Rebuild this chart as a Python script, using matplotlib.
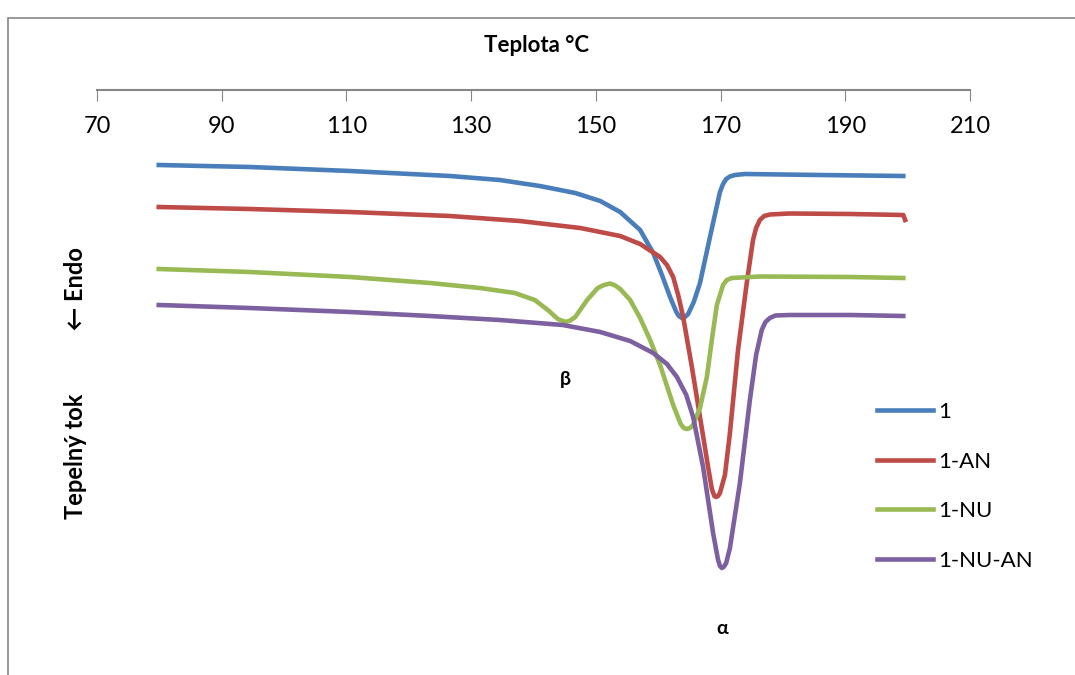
import matplotlib.pyplot as plt
from matplotlib.patches import Rectangle

plt.rcParams['font.family'] = ['Lato', 'DejaVu Sans']

# DSC curves (temperature in C, relative heat flow)
t_1 = [79.9, 94.5, 110.6, 126.6, 134.6, 141.0, 146.7, 150.7, 153.9, 157.1, 159.2, 160.6, 161.9,
       162.9, 163.3, 163.8, 164.3, 164.8, 165.7, 166.7, 168.3, 169.9, 170.4, 170.9, 171.5,
       172.3, 173.9, 185.9, 199.3]
v_1 = [4.85, 4.83, 4.79, 4.74, 4.70, 4.64, 4.57, 4.49, 4.38, 4.20, 3.97, 3.75, 3.53,
       3.38, 3.34, 3.32, 3.33, 3.36, 3.48, 3.67, 4.13, 4.58, 4.66, 4.71, 4.735,
       4.75, 4.76, 4.75, 4.74]

t_an = [79.9, 94.5, 110.6, 126.6, 137.8, 147.5, 153.9, 157.1, 160.3, 161.4, 162.4, 163.2, 164.0,
        165.4, 166.7, 168.0, 168.6, 169.0, 169.3, 169.6, 169.9, 170.7, 171.5, 172.8, 174.2,
        175.2, 175.7, 176.3, 177.0, 177.9, 181.1, 190.8, 199.3, 199.6]
v_an = [4.43, 4.41, 4.38, 4.34, 4.29, 4.22, 4.14, 4.06, 3.93, 3.85, 3.73, 3.55, 3.33,
        2.83, 2.33, 1.83, 1.61, 1.54, 1.53, 1.54, 1.57, 1.75, 2.17, 3.00, 3.67,
        4.10, 4.22, 4.30, 4.34, 4.355, 4.365, 4.36, 4.35, 4.30]

t_nu = [79.9, 94.5, 110.6, 123.4, 131.4, 137.0, 140.2, 142.3, 143.9, 144.5, 145.2, 145.9, 146.7,
        148.6, 150.3, 151.3, 152.3, 153.1, 153.9, 155.5, 157.1, 158.7, 160.3, 162.4, 163.6,
        164.1, 164.6, 165.1, 165.6, 166.7, 167.8, 168.6, 169.4, 170.4, 171.0, 171.8, 176.3,
        190.8, 199.3]
v_nu = [3.81, 3.78, 3.73, 3.67, 3.62, 3.57, 3.50, 3.40, 3.31, 3.295, 3.28, 3.295, 3.33,
        3.50, 3.62, 3.65, 3.665, 3.645, 3.61, 3.50, 3.32, 3.10, 2.85, 2.45, 2.26,
        2.22, 2.21, 2.22, 2.25, 2.42, 2.73, 3.10, 3.45, 3.65, 3.70, 3.72, 3.735,
        3.73, 3.72]

t_nuan = [79.9, 94.5, 110.6, 123.4, 134.6, 144.7, 150.7, 155.5, 159.2, 161.4, 163.0, 164.5, 165.6,
          167.2, 168.8, 169.6, 169.9, 170.2, 170.5, 170.9, 171.5, 173.1, 174.7, 175.7, 176.6,
          177.2, 177.9, 178.8, 181.1, 190.8, 199.3]
v_nuan = [3.45, 3.42, 3.38, 3.34, 3.30, 3.25, 3.18, 3.09, 2.97, 2.86, 2.73, 2.55, 2.33,
          1.83, 1.17, 0.90, 0.84, 0.82, 0.83, 0.87, 1.02, 1.67, 2.50, 2.95, 3.20,
          3.28, 3.32, 3.345, 3.35, 3.35, 3.34]

x_ticks = [70, 90, 110, 130, 150, 170, 190, 210]

fig = plt.figure(figsize=(10.75, 6.75), dpi=100)
ax = fig.add_axes([97 / 1075, 25 / 675, 873 / 1075, 560 / 675])

ax.plot(t_1, v_1, color='#4A7EBB', lw=3.3, label='1', solid_joinstyle='round')
ax.plot(t_an, v_an, color='#BE4B48', lw=3.3, label='1-AN', solid_joinstyle='round')
ax.plot(t_nu, v_nu, color='#98B954', lw=3.3, label='1-NU', solid_joinstyle='round')
ax.plot(t_nuan, v_nuan, color='#7D60A0', lw=3.3, label='1-NU-AN', solid_joinstyle='round')

ax.set_xlim(70, 210)
ax.set_ylim(0, 5.6)
ax.set_xticks(x_ticks)
ax.xaxis.tick_top()
ax.tick_params(axis='x', direction='in', length=8, color='#868686', labelsize=17, pad=-34)
ax.set_yticks([])
for side in ['left', 'right', 'bottom']:
    ax.spines[side].set_visible(False)
ax.spines['top'].set_color('#868686')
ax.spines['top'].set_linewidth(1.5)

fig.text(536 / 1075, 1 - 45 / 675, 'Teplota °C', ha='center', va='center',
         fontsize=16, fontweight='bold')
fig.text(76 / 1075, 1 - 383 / 675, 'Tepelný tok           ← Endo', rotation=90,
         ha='center', va='center', fontsize=17, fontweight='bold')

ax.annotate('β', xy=(565 / 1075, 1 - 380 / 675), xycoords='figure fraction',
            ha='center', va='center', fontsize=14, fontweight='bold')
ax.annotate('α', xy=(722 / 1075, 1 - 628 / 675), xycoords='figure fraction',
            ha='center', va='center', fontsize=14, fontweight='bold')

ax.legend(loc='upper left', bbox_to_anchor=(877 / 1075, 1 - 402 / 675),
          bbox_transform=fig.transFigure, frameon=False, fontsize=16,
          handlelength=2.5, handletextpad=0.25, labelspacing=1.33,
          borderpad=0, borderaxespad=0)

fig.add_artist(Rectangle((8 / 1075, -0.1), 1.2, 1 - 18 / 675 + 0.1,
                         transform=fig.transFigure, fill=False,
                         edgecolor='#868686', lw=1.2))

fig.savefig('out.png', dpi=100)
